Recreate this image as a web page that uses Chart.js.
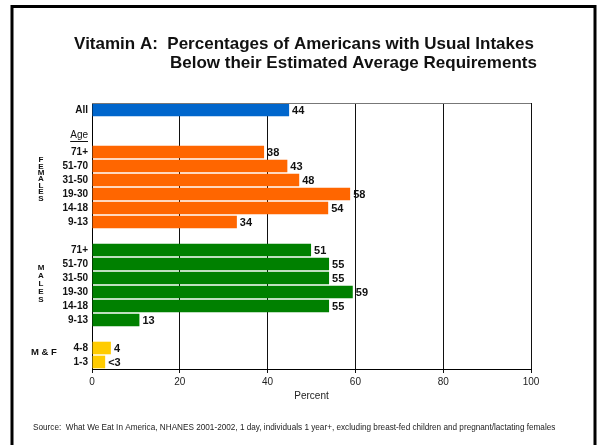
<!DOCTYPE html>
<html>
<head>
<meta charset="utf-8">
<script src="https://cdn.jsdelivr.net/npm/chart.js@4.4.1/dist/chart.umd.min.js"></script>
<style>
  html, body { margin: 0; padding: 0; background: #fff; }
  canvas { display: block; }
</style>
</head>
<body>
<canvas id="chart" width="600" height="445"></canvas>
<script>
const FONT = '"Liberation Sans", Arial, sans-serif';

// values (bar lengths) and the numbers printed beside them
const ageGroups = ["71+", "51-70", "31-50", "19-30", "14-18", "9-13"];
const childAges = ["4-8", "1-3"];

const allValue = 44.9;
const allLabel = "44";

const femaleValues = [39.2, 44.5, 47.2, 58.8, 53.8, 33.0];
const femaleLabels = ["38", "43", "48", "58", "54", "34"];

const maleValues = [49.9, 54.0, 54.0, 59.4, 54.0, 10.8];
const maleLabels = ["51", "55", "55", "59", "55", "13"];

const childValues = [4.3, 3.0];
const childLabels = ["4", "<3"];

const xTicks = [0, 20, 40, 60, 80, 100];

// rows: All, two gaps, females, gap, males, gap, both sexes
const categories = ["All", "", ""].concat(ageGroups, [""], ageGroups, [""], childAges);
const n = categories.length;

function rowData(start, values) {
  const arr = new Array(n).fill(null);
  values.forEach((v, i) => { arr[start + i] = v; });
  return arr;
}
const femaleStart = 3;
const maleStart = femaleStart + ageGroups.length + 1;
const childStart = maleStart + ageGroups.length + 1;

const decor = {
  id: "decor",
  beforeDraw(chart) {
    const c = chart.ctx;
    c.save();
    c.fillStyle = "#fff";
    c.fillRect(0, 0, chart.width, chart.height);
    c.restore();
  },
  afterDatasetsDraw(chart) {
    const c = chart.ctx;
    c.save();
    c.font = "bold 11px " + FONT;
    c.fillStyle = "#111";
    c.textBaseline = "middle";
    c.textAlign = "left";
    chart.data.datasets.forEach((ds, di) => {
      const meta = chart.getDatasetMeta(di);
      meta.data.forEach((bar, i) => {
        if (ds.data[i] == null) return;
        c.fillText(ds.valueLabels[i], bar.x + 3, bar.y + 1);
      });
    });
    c.restore();
  },
  afterDraw(chart) {
    const c = chart.ctx;
    const area = chart.chartArea;
    const y = chart.scales.y;
    c.save();

    // top edge of the plot
    c.strokeStyle = "#777";
    c.lineWidth = 1;
    c.beginPath();
    c.moveTo(area.left, area.top + 0.5);
    c.lineTo(area.right, area.top + 0.5);
    c.stroke();

    // outer frame
    c.strokeStyle = "#000";
    c.lineWidth = 3;
    c.beginPath();
    c.moveTo(12, 460);
    c.lineTo(12, 6.5);
    c.lineTo(595, 6.5);
    c.lineTo(595, 460);
    c.stroke();

    // title
    c.fillStyle = "#111";
    c.textBaseline = "middle";
    c.font = "bold 17px " + FONT;
    const line1 = "Vitamin A:  Percentages of Americans with Usual Intakes";
    const line2 = "Below their Estimated Average Requirements";
    const w1 = c.measureText(line1).width;
    const x1 = 304 - w1 / 2;
    c.textAlign = "left";
    c.fillText(line1, x1, 44);
    c.textAlign = "right";
    c.fillText(line2, x1 + w1 + 3, 63);

    // "Age" header
    c.font = "10px " + FONT;
    c.textAlign = "right";
    const ageY = (y.getPixelForValue(1) + y.getPixelForValue(2)) / 2 + 4;
    c.fillText("Age", area.left - 4, ageY);
    const aw = c.measureText("Age").width;
    c.fillRect(area.left - 4 - aw, ageY + 6, aw, 1);

    // group labels
    c.font = "bold 8px " + FONT;
    c.textAlign = "center";
    const fy = y.getPixelForValue(femaleStart) + 8;
    "FEMALES".split("").forEach((ch, i) => c.fillText(ch, 41, fy + i * 6.4));
    const my = y.getPixelForValue(maleStart) + 18;
    "MALES".split("").forEach((ch, i) => c.fillText(ch, 41, my + i * 7.9));
    c.font = "bold 9.5px " + FONT;
    c.textAlign = "left";
    c.fillText("M & F", 31, (y.getPixelForValue(childStart) + y.getPixelForValue(childStart + 1)) / 2 - 3);

    // source note
    c.font = "8.2px " + FONT;
    c.fillStyle = "#222";
    c.fillText("Source:  What We Eat In America, NHANES 2001-2002, 1 day, individuals 1 year+, excluding breast-fed children and pregnant/lactating females", 33, 428);
    c.restore();
  }
};

new Chart(document.getElementById("chart"), {
  type: "bar",
  data: {
    labels: categories,
    datasets: [
      {
        label: "All",
        data: rowData(0, [allValue]),
        valueLabels: rowData(0, [allLabel]),
        backgroundColor: "#0066CC",
      },
      {
        label: "Females",
        data: rowData(femaleStart, femaleValues),
        valueLabels: rowData(femaleStart, femaleLabels),
        backgroundColor: "#FF6600",
      },
      {
        label: "Males",
        data: rowData(maleStart, maleValues),
        valueLabels: rowData(maleStart, maleLabels),
        backgroundColor: "#008000",
      },
      {
        label: "M & F",
        data: rowData(childStart, childValues),
        valueLabels: rowData(childStart, childLabels),
        backgroundColor: "#FFCC00",
      },
    ],
  },
  options: {
    indexAxis: "y",
    responsive: false,
    animation: false,
    devicePixelRatio: 1,
    datasets: {
      bar: {
        grouped: false,
        barPercentage: 0.9,
        categoryPercentage: 1,
      },
    },
    layout: {
      padding: { left: 0, right: 69, top: 103, bottom: 40 },
    },
    plugins: {
      legend: { display: false },
      tooltip: { enabled: false },
    },
    scales: {
      y: {
        afterFit(scale) { scale.width = 92; },
        grid: { display: false, drawTicks: false },
        border: { color: "#000", width: 1 },
        ticks: {
          autoSkip: false,
          padding: 4,
          color: "#111",
          font: { family: FONT, size: 10, weight: "bold" },
        },
      },
      x: {
        min: 0,
        max: 100,
        afterFit(scale) { scale.height = 36; },
        afterBuildTicks(scale) { scale.ticks = xTicks.map(v => ({ value: v })); },
        grid: { color: "#111", lineWidth: 1, tickLength: 4 },
        border: { color: "#000", width: 1 },
        ticks: {
          padding: 3,
          color: "#222",
          font: { family: FONT, size: 10 },
        },
        title: {
          display: true,
          text: "Percent",
          color: "#222",
          padding: { top: 0, bottom: 3 },
          font: { family: FONT, size: 10 },
        },
      },
    },
  },
  plugins: [decor],
});
</script>
</body>
</html>
